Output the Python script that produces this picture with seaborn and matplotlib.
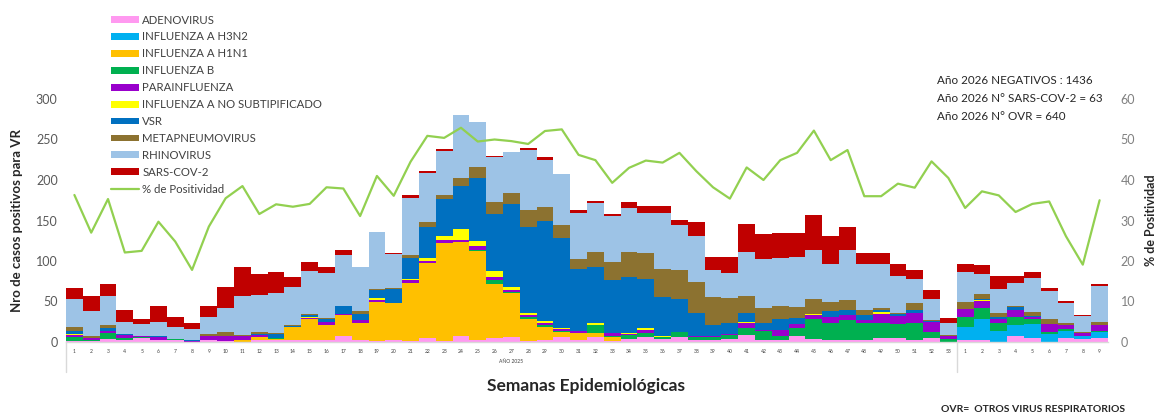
import numpy as np
import pandas as pd
import matplotlib
matplotlib.use("Agg")
import matplotlib.pyplot as plt
import seaborn as sns
from matplotlib.patches import Patch
from matplotlib.lines import Line2D

# ---------------- data ----------------
weeks_2025 = [str(i) for i in range(1, 54)]
weeks_2026 = [str(i) for i in range(1, 10)]
week_labels = weeks_2025 + weeks_2026

adenovirus = [1, 1, 4, 3, 5, 3, 3, 0, 2, 1, 0, 2, 2, 3, 2, 3, 8, 2, 1, 3,
              1, 5, 1, 8, 3, 5, 6, 1, 3, 6, 3, 6, 1, 4, 6, 4, 6, 3, 3, 4,
              9, 3, 3, 7, 4, 2, 3, 2, 5, 5, 3, 5, 0,
              2, 3, 0, 7, 5, 0, 5, 4, 5]
influenza_h3n2 = [0] * 53 + [17, 26, 13, 14, 17, 10, 8, 4, 7]
influenza_h1n1 = [0, 0, 0, 0, 0, 0, 0, 0, 0, 0, 3, 4, 2, 15, 27, 18, 25, 22, 48, 45,
                  72, 93, 121, 115, 109, 67, 54, 28, 16, 6, 8, 5, 5, 0, 0, 0, 0, 0, 0, 0,
                  0, 0, 0, 0, 0, 0, 0, 0, 0, 0, 0, 0, 0,
                  0, 0, 0, 0, 0, 0, 0, 0, 0]
influenza_b = [5, 2, 7, 2, 1, 0, 1, 0, 1, 0, 0, 0, 1, 0, 0, 0, 0, 0, 0, 0,
               0, 0, 0, 0, 1, 5, 2, 2, 2, 1, 0, 10, 2, 5, 5, 2, 6, 3, 3, 5,
               8, 10, 4, 10, 25, 22, 24, 21, 19, 17, 20, 7, 4,
               12, 13, 10, 10, 6, 2, 3, 0, 2]
parainfluenza = [3, 2, 2, 4, 1, 3, 0, 1, 4, 6, 5, 3, 0, 0, 1, 4, 2, 3, 3, 0,
                 3, 2, 4, 3, 5, 3, 2, 2, 2, 3, 2, 0, 3, 1, 4, 0, 0, 2, 2, 1,
                 7, 2, 8, 5, 4, 7, 6, 4, 11, 10, 13, 13, 3,
                 10, 9, 5, 8, 3, 10, 5, 3, 7]
influenza_a_ns = [1, 0, 0, 0, 0, 0, 0, 0, 0, 0, 0, 0, 0, 0, 1, 0, 0, 0, 2, 0,
                  2, 4, 5, 14, 7, 8, 4, 3, 3, 1, 0, 2, 0, 1, 2, 2, 0, 0, 0, 0,
                  1, 0, 0, 0, 1, 0, 0, 0, 2, 0, 0, 0, 0,
                  0, 1, 0, 0, 0, 0, 0, 0, 0]
vsr = [4, 0, 4, 1, 1, 1, 0, 1, 1, 1, 0, 1, 5, 2, 2, 3, 9, 8, 10, 18,
       26, 38, 45, 53, 77, 70, 102, 106, 123, 112, 77, 70, 65, 69, 61, 48, 41, 28, 13, 14,
       11, 9, 14, 8, 1, 7, 6, 6, 3, 2, 4, 1, 1,
       0, 1, 3, 4, 1, 0, 0, 0, 0]
metapneumovirus = [4, 2, 4, 0, 0, 0, 0, 1, 2, 4, 1, 2, 1, 1, 1, 2, 1, 3, 1, 1,
                   3, 6, 5, 10, 14, 15, 14, 21, 18, 16, 13, 18, 23, 31, 32, 34, 36, 38, 35, 30,
                   21, 18, 16, 13, 18, 11, 13, 6, 2, 2, 8, 1, 1,
                   8, 6, 5, 2, 5, 6, 3, 1, 4]
rhinovirus = [35, 31, 36, 15, 14, 18, 14, 13, 21, 30, 48, 46, 50, 47, 54, 55, 62, 55, 71, 42,
              71, 61, 55, 77, 56, 56, 51, 74, 58, 62, 56, 61, 57, 55, 49, 69, 56, 57, 33, 31,
              54, 60, 59, 62, 61, 47, 62, 57, 54, 46, 30, 26, 15,
              37, 25, 29, 28, 42, 35, 24, 20, 44]
sars_cov_2 = [14, 19, 15, 14, 6, 20, 13, 7, 14, 26, 36, 26, 25, 12, 11, 7, 6, 0, 0, 1,
              3, 2, 2, 0, 0, 1, 0, 3, 3, 0, 4, 2, 2, 7, 9, 9, 6, 17, 16, 20,
              35, 31, 30, 30, 43, 35, 28, 14, 14, 14, 11, 11, 6,
              10, 11, 16, 8, 7, 4, 3, 1, 3]
positividad = [36.3, 27.0, 35.3, 22.1, 22.5, 29.7, 24.8, 17.8, 28.5, 35.5,
               38.5, 31.6, 34.0, 33.4, 34.1, 38.2, 37.9, 31.1, 41.0, 36.1,
               44.5, 50.9, 50.4, 52.9, 49.5, 50.0, 49.6, 48.9, 52.1, 52.5,
               46.2, 44.9, 39.3, 43.0, 44.8, 44.3, 46.7, 42.2, 38.2, 35.4,
               43.1, 40.0, 44.9, 46.7, 52.2, 44.9, 47.4, 36.0, 36.0, 39.1,
               38.1, 44.6, 40.5,
               33.1, 37.2, 36.2, 32.1, 34.1, 34.7, 26.1, 19.1, 35.0]

series_names = ["ADENOVIRUS", "INFLUENZA A H3N2", "INFLUENZA A H1N1", "INFLUENZA B",
                "PARAINFLUENZA", "INFLUENZA A NO SUBTIPIFICADO", "VSR",
                "METAPNEUMOVIRUS", "RHINOVIRUS", "SARS-COV-2"]
series_values = [adenovirus, influenza_h3n2, influenza_h1n1, influenza_b, parainfluenza,
                 influenza_a_ns, vsr, metapneumovirus, rhinovirus, sars_cov_2]
series_colors = ["#FF99F0", "#00B0F0", "#FFC000", "#00B050", "#9900CC",
                 "#FFFF00", "#0070C0", "#8C7230", "#9DC3E6", "#C00000"]
line_color = "#92D050"

# ---------------- figure ----------------
sns.set_theme(style="white")
plt.rcParams["font.family"] = ["Lato", "DejaVu Sans"]

W, H = 1162, 420
fig = plt.figure(figsize=(W / 100, H / 100), dpi=100)
ax = fig.add_axes([66 / W, 1 - 342 / H, (1108 - 66) / W, (342 - 99) / H])

n = len(week_labels)
pos = np.arange(n)
cum = np.cumsum(np.array(series_values, dtype=float), axis=0)

for i in range(len(series_names) - 1, -1, -1):
    df = pd.DataFrame({"pos": pos, "val": cum[i]})
    sns.barplot(data=df, x="pos", y="val", color=series_colors[i], width=1.0,
                saturation=1, errorbar=None, edgecolor="none", linewidth=0, ax=ax)

ax.set_ylim(0, 300)
ax.set_yticks([0, 50, 100, 150, 200, 250, 300])
ax.tick_params(axis="y", labelsize=9, labelcolor="#595959", length=0, pad=6)
ax.set_xticks(pos)
ax.set_xticklabels(week_labels, fontsize=3.6, color="#404040")
ax.tick_params(axis="x", length=0, pad=5)
ax.set_xlabel("")
ax.set_ylabel("Nro de casos positivos para VR", fontsize=9.5, fontweight="bold",
              color="#262626", labelpad=9)
for s in ["top", "right", "left"]:
    ax.spines[s].set_visible(False)
ax.spines["bottom"].set_color("#D9D9D9")
ax.spines["bottom"].set_linewidth(1)

ax2 = ax.twinx()
dfl = pd.DataFrame({"pos": pos, "pct": positividad})
sns.lineplot(data=dfl, x="pos", y="pct", color=line_color, linewidth=1.6, ax=ax2)
ax2.set_ylim(0, 60)
ax2.set_yticks([0, 10, 20, 30, 40, 50, 60])
ax2.tick_params(axis="y", labelsize=9, labelcolor="#808080", length=0, pad=9)
ax2.set_ylabel("% de Positividad", fontsize=9, fontweight="bold", color="#262626",
               labelpad=7)
for s in ["top", "right", "left", "bottom"]:
    ax2.spines[s].set_visible(False)
ax.set_xlim(-0.5, n - 0.5)
ax2.set_xlim(-0.5, n - 0.5)
ax2.set_xlabel("")

# category group dividers
for xv in [-0.5, 52.5]:
    ax.axvline(xv, ymin=-0.125, ymax=0, color="#D9D9D9", lw=1, clip_on=False)
ax.text(26, -0.082, "AÑO 2025", transform=ax.get_xaxis_transform(), ha="center",
        va="center", fontsize=3.6, color="#404040")

# legend
handles = [Patch(facecolor=c, edgecolor="none") for c in series_colors]
handles.append(Line2D([0], [0], color=line_color, lw=1.6))
labels = series_names + ["% de Positividad"]
fig.legend(handles, labels, loc="upper left", bbox_to_anchor=(106 / W, 1 - 10 / H),
           frameon=False, fontsize=8.2, handlelength=2.5, handleheight=0.55,
           handletextpad=0.3, labelspacing=0.52, labelcolor="#404040", borderaxespad=0)

# annotations
for k, t in enumerate(["Año 2026 NEGATIVOS : 1436", "Año 2026 N° SARS-COV-2 = 63",
                       "Año 2026 N° OVR = 640"]):
    fig.text(937 / W, 1 - (80 + 18 * k) / H, t, fontsize=8.4, color="#262626",
             ha="left", va="center")

fig.text(586 / W, 1 - 386 / H, "Semanas Epidemiológicas", fontsize=12.5,
         fontweight="bold", color="#262626", ha="center", va="center")
fig.text(1033 / W, 1 - 410 / H, "OVR=  OTROS VIRUS RESPIRATORIOS", fontsize=7.5,
         fontweight="bold", color="#262626", ha="center", va="center")

fig.savefig("out.png", dpi=100)
